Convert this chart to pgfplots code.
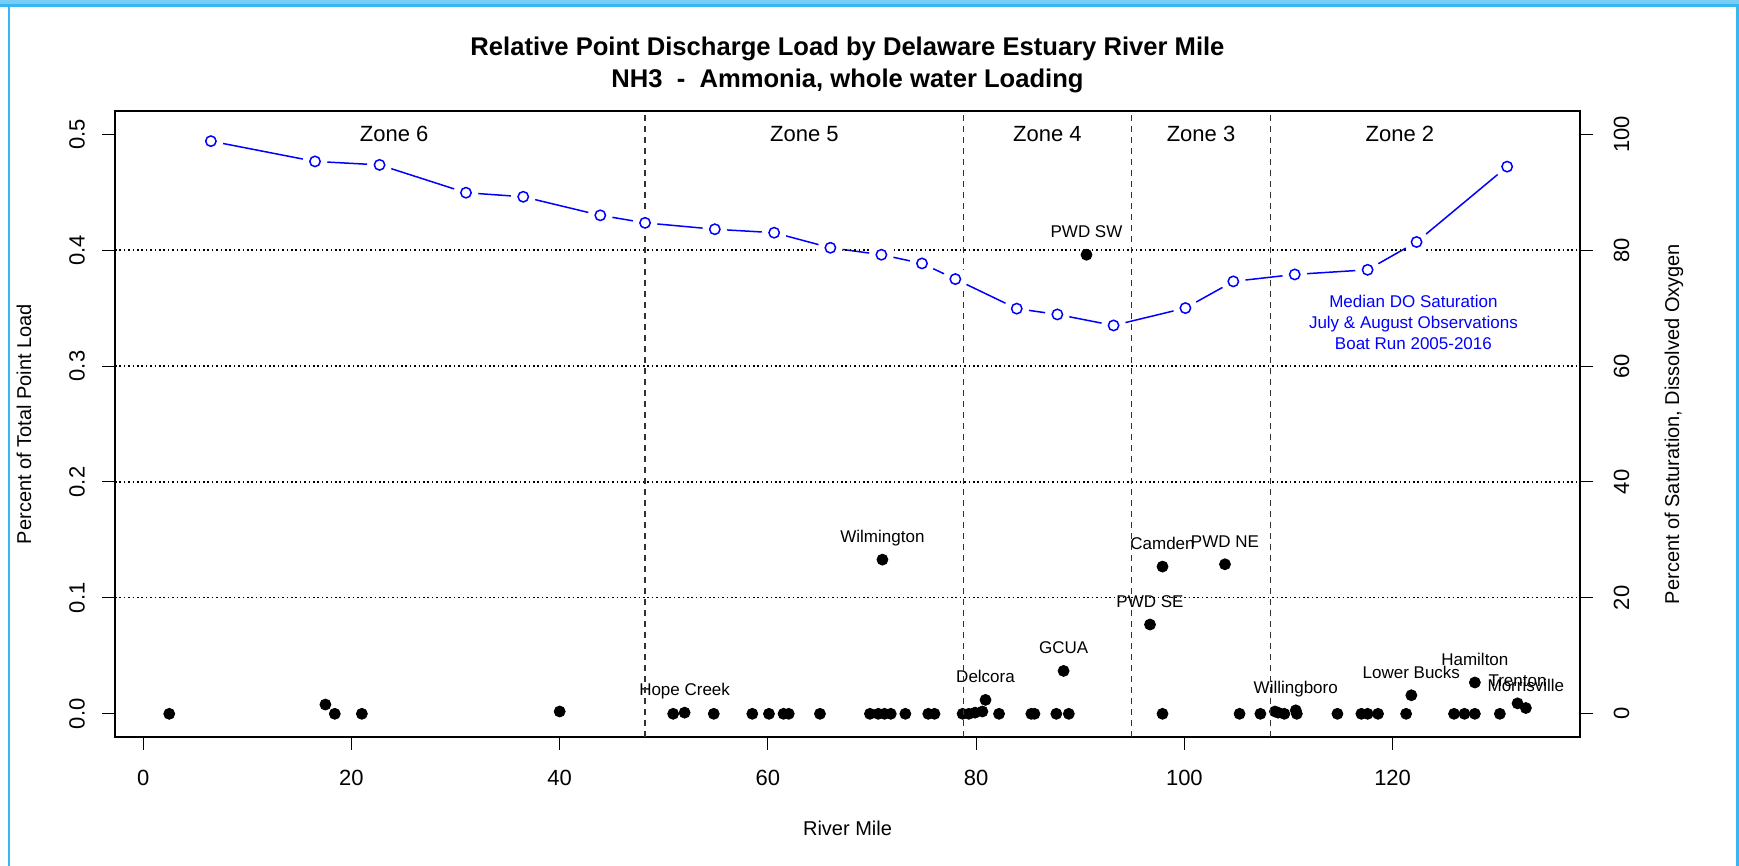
\documentclass[border=0pt]{standalone}
\usepackage{fontspec}
\setmainfont{Liberation Sans}
\usepackage{pgfplots}
\usepackage{pgfplotstable}
\pgfplotsset{compat=1.18}

\definecolor{framebl}{RGB}{56,182,242}
\definecolor{bandbl}{RGB}{120,205,247}
\definecolor{zonegray}{RGB}{50,50,50}

% point loads without a label
\pgfplotstableread{
mile load
2.5 0
17.5 0.008
18.4 0
21.0 0
40.0 0.002
50.9 0
54.8 0
58.5 0
60.1 0
61.5 0
62.0 0
65.0 0
69.8 0
70.6 0
71.2 0
71.8 0
73.2 0
75.4 0
76.0 0
78.7 0
79.3 0
79.9 0.001
80.6 0.002
82.2 0
85.3 0
85.6 0
87.7 0
88.9 0
97.9 0
105.3 0
107.3 0
108.7 0.002
109.0 0.001
109.6 0
110.8 0
114.7 0
117.0 0
117.6 0
118.6 0
121.3 0
125.9 0
126.9 0
127.9 0
130.3 0
}\loadplain

% point loads with a label
\pgfplotstableread{
mile load name
52.0 0.001 {Hope Creek}
71.0 0.133 Wilmington
80.9 0.012 Delcora
88.4 0.037 GCUA
90.6 0.396 {PWD SW}
96.7 0.077 {PWD SE}
97.9 0.127 Camden
103.9 0.129 {PWD NE}
110.7 0.003 Willingboro
121.8 0.016 {Lower Bucks}
127.9 0.027 Hamilton
132.0 0.009 Trenton
132.8 0.005 Morrisville
}\loadnamed

% median DO saturation, boat run
\pgfplotstableread{
mile do
6.5 98.8
16.5 95.3
22.7 94.7
31.0 89.9
36.5 89.2
43.9 86.0
48.2 84.7
54.9 83.6
60.6 83.0
66.0 80.4
70.9 79.2
74.8 77.7
78.0 75.0
83.9 69.9
87.8 68.9
93.2 67.0
100.1 70.0
104.7 74.6
110.6 75.8
117.6 76.6
122.3 81.4
131.0 94.4
}\dosat

\pgfplotsset{
  rstyle/.style={
    at={(57.5pt,64.5pt)}, anchor=south west,
    scale only axis, width=732.5pt, height=313pt,
    xmin=-2.71, xmax=138.0,
    tick align=outside, major tick length=6.5pt,
    tick style={black, line width=0.5pt},
    axis line style={black, line width=0.6pt},
    ticklabel style={font=\fontsize{11}{13}\selectfont},
    label style={font=\fontsize{11}{13}\selectfont},
    /pgf/number format/assume math mode=true,
  },
}
\tikzset{
  gridl/.style={black, line width=0.6pt, dash pattern=on 0.8pt off 1.4pt},
  zonel/.style={zonegray, line width=0.6pt, dash pattern=on 2.75pt off 2.75pt},
  zonet/.style={font=\fontsize{11}{13}\selectfont},
}

\begin{document}
\begin{tikzpicture}
\path[use as bounding box] (0,0) rectangle (869.5pt,433pt);
\fill[bandbl] (0,430.5pt) rectangle (869.5pt,433pt);
\fill[framebl] (0,429.6pt) rectangle (869.5pt,431pt);
\fill[framebl] (3.8pt,0) rectangle (5pt,430pt);
\fill[framebl] (868.2pt,0) rectangle (869.4pt,430pt);

\node[font=\fontsize{12.8}{15}\selectfont\bfseries, anchor=base] at (423.75pt,405pt)
  {Relative Point Discharge Load by Delaware Estuary River Mile};
\node[font=\fontsize{12.8}{15}\selectfont\bfseries, anchor=base] at (423.75pt,389pt)
  {NH3\ \ -\ \ Ammonia, whole water Loading};

\begin{axis}[rstyle,
  ymin=-0.02, ymax=0.52,
  xtick pos=bottom, ytick pos=left,
  xtick={0,20,40,60,80,100,120},
  ytick={0,0.1,0.2,0.3,0.4,0.5},
  yticklabel style={/pgf/number format/fixed, /pgf/number format/fixed zerofill,
    /pgf/number format/precision=1},
  xticklabel style={anchor=base, yshift=-17.5pt},
  yticklabel style={xshift=-8.7pt, rotate=90, anchor=base},
  xlabel={River Mile},
  ylabel={Percent of Total Point Load},
  every axis x label/.style={at={(axis description cs:0.5,0)}, yshift=-49pt, anchor=base},
  every axis y label/.style={at={(axis description cs:0,0.5)}, xshift=-45.5pt, rotate=90, anchor=center},
]
\addplot[only marks, mark=*, mark size=2.75pt, black] table[x=mile, y=load] {\loadplain};
\addplot[only marks, mark=*, mark size=2.75pt, black,
  nodes near coords, point meta=explicit symbolic,
  every node near coord/.style={anchor=base, yshift=8.5pt, black,
    font=\fontsize{8.5}{10}\selectfont}]
  table[x=mile, y=load, meta=name] {\loadnamed};
\end{axis}

\begin{axis}[rstyle,
  ymin=-4, ymax=104,
  axis x line=none, axis y line*=right,
  ytick={0,20,40,60,80,100},
  yticklabel style={xshift=18pt, rotate=90, anchor=base},
  ylabel={Percent of Saturation, Dissolved Oxygen},
  every axis y label/.style={at={(axis description cs:1,0.5)}, xshift=47pt, rotate=90, anchor=center},
]
\addplot[blue, line width=0.75pt, mark=none] table[x=mile, y=do] {\dosat};
\addplot[only marks, mark=*, mark size=6pt, white] table[x=mile, y=do] {\dosat};
\addplot[only marks, mark=o, mark size=2.6pt, blue, mark options={line width=0.75pt}] table[x=mile, y=do] {\dosat};

\draw[gridl] (axis cs:-2.71,20) -- (axis cs:138,20);
\draw[gridl] (axis cs:-2.71,40) -- (axis cs:138,40);
\draw[gridl] (axis cs:-2.71,60) -- (axis cs:138,60);
\draw[gridl] (axis cs:-2.71,80) -- (axis cs:138,80);
\draw[zonel] (axis cs:48.2,-4) -- (axis cs:48.2,104);
\draw[zonel] (axis cs:78.8,-4) -- (axis cs:78.8,104);
\draw[zonel] (axis cs:94.9,-4) -- (axis cs:94.9,104);
\draw[zonel] (axis cs:108.3,-4) -- (axis cs:108.3,104);
\node[zonet] at (axis cs:24.1,100) {Zone 6};
\node[zonet] at (axis cs:63.5,100) {Zone 5};
\node[zonet] at (axis cs:86.85,100) {Zone 4};
\node[zonet] at (axis cs:101.6,100) {Zone 3};
\node[zonet] at (axis cs:120.7,100) {Zone 2};
\node[blue, align=center, font=\fontsize{8.5}{10.5}\selectfont] at (axis cs:122,67.6)
  {Median DO Saturation\\July \& August Observations\\Boat Run 2005-2016};
\end{axis}
\end{tikzpicture}
\end{document}
